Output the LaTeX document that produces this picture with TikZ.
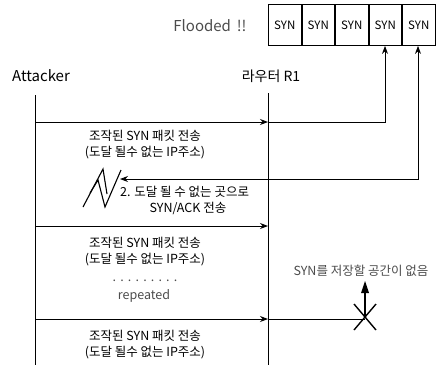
\documentclass[tikz,border=0pt]{standalone}
\usepackage{fontspec}
\setmainfont{Noto Sans CJK KR}
\usetikzlibrary{arrows.meta,calc}
\begin{document}
\begin{tikzpicture}[x=1pt,y=-1pt,
  line/.style={line width=0.9pt,black},
  msg/.style={line width=0.9pt,-{Stealth[length=8pt,width=6pt]}},
  cell/.style={draw,line width=0.9pt,minimum width=32.6pt,minimum height=41pt,inner sep=0pt,font=\fontsize{11.5}{13}\selectfont},
  lbl/.style={font=\fontsize{12.5}{15}\selectfont,align=center,inner sep=0pt},
  note/.style={font=\fontsize{12.5}{15}\selectfont,text=black!70,inner sep=0pt}]
\useasboundingbox (0,0) rectangle (438,365);
% header
\node[cell,anchor=north west] (c1) at (268,4) {SYN};
\node[cell,anchor=west] (c2) at (c1.east) {SYN};
\node[cell,anchor=west] (c3) at (c2.east) {SYN};
\node[cell,anchor=west] (c4) at (c3.east) {SYN};
\node[cell,anchor=west] (c5) at (c4.east) {SYN};
\node[note,font=\fontsize{15}{17}\selectfont] (fl) at (210,26) {Flooded \,!!};
\node[lbl,font=\fontsize{15}{17}\selectfont] (att) at (41,76) {Attacker};
\node[lbl,font=\fontsize{14}{16}\selectfont] (r1) at (271,76) {라우터 R1};
% lifelines
\coordinate (aTop) at (35,95); \coordinate (aBot) at (35,365);
\coordinate (rTop) at (268,93); \coordinate (rBot) at (268,365);
\draw[line] (aTop) -- (aBot);
\draw[line] (rTop) -- (rBot);
% message 1
\coordinate (m1a) at (35,122); \coordinate (m1r) at (268,122);
\draw[msg] (m1a) -- (m1r);
\draw[msg] (m1r) -- (385,122) -- (385,122 |- c4.south);
\node[lbl] (t1) at (145,145) {조작된 SYN 패킷 전송\\[1pt](도달 될수 없는 IP주소)};
% SYN/ACK back
\coordinate (sa) at (120,179);
\draw[line,{Stealth[length=8pt,width=6pt]}-{Stealth[length=8pt,width=6pt]}] (sa) -- (418,179) -- (418,179 |- c5.south);
\draw[line,line width=1.1pt] (83,207) -- (103,169) -- (107,194);
\draw[line,line width=1.1pt] (90,193) -- (98,180) -- (105,207) -- (121,170);
\node[lbl,anchor=west] (t2) at (120,192) {2. 도달 될 수 없는 곳으로};
\node[lbl] (t2b) at (188,208) {SYN/ACK 전송};
% message 2
\coordinate (m2a) at (35,226); \coordinate (m2r) at (268,226);
\draw[msg] (m2a) -- (m2r);
\node[lbl] (t3) at (145,252) {조작된 SYN 패킷 전송\\[1pt](도달 될수 없는 IP주소)};
\node[note] (dots) at (145,281) {.\,\,.\,\,.\,\,.\,\,.\,\,.\,\,.\,\,.\,\,.};
\node[note] (rep) at (144,296) {repeated};
% message 3
\coordinate (m3a) at (35,319); \coordinate (m3r) at (268,319);
\coordinate (xend) at (365,319);
\draw[msg] (m3a) -- (m3r);
\draw[line] (m3r) -- (xend);
\draw[line,line width=1.4pt] (354,304) -- (376,330);
\draw[line,line width=1.4pt] (376,304) -- (354,330);
\node[note,font=\fontsize{12.5}{14}\selectfont] (full) at (361,271) {SYN를 저장할 공간이 없음};
\draw[line width=1.2pt,black] (365,317) -- (365,290);
\fill[black] (365,281) -- (361,293) -- (369,293) -- cycle;
\node[lbl] (t4) at (145,345) {조작된 SYN 패킷 전송\\[1pt](도달 될수 없는 IP주소)};
\end{tikzpicture}
\end{document}
